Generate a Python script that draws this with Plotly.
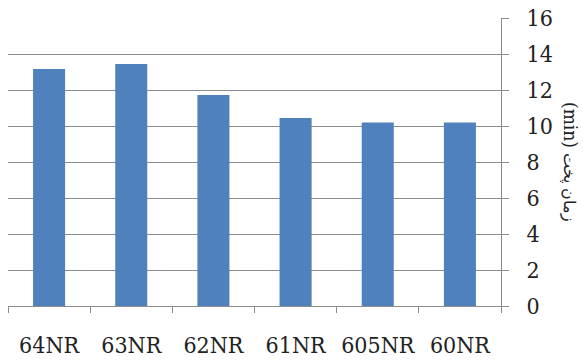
import plotly.graph_objects as go

categories = ["64NR", "63NR", "62NR", "61NR", "605NR", "60NR"]
values = [13.17, 13.44, 11.72, 10.44, 10.2, 10.2]
y_ticks = [0, 2, 4, 6, 8, 10, 12, 14, 16]
y_title_unit = "(min)"
y_title_text = "زمان پخت"

fig = go.Figure()
fig.add_trace(go.Bar(x=categories, y=values, marker=dict(color="#4F81BD", line=dict(width=0)), width=0.39))

font_family = "DejaVu Serif Condensed, DejaVu Serif"
fig.update_layout(
    width=583, height=362,
    margin=dict(l=8, r=82, t=18, b=56, autoexpand=False),
    paper_bgcolor="white", plot_bgcolor="white",
    showlegend=False,
    font=dict(family=font_family),
)
fig.update_xaxes(
    type="category", tickangle=0, automargin=False,
    showline=True, linecolor="#8c8c8c", linewidth=1,
    ticks="outside", tickson="boundaries", ticklen=6, tickcolor="#8c8c8c",
    tickfont=dict(family=font_family, size=23, color="#222"),
    ticklabelstandoff=18,
    showgrid=False,
)
fig.update_yaxes(
    side="right", range=[0, 16], tickvals=y_ticks, automargin=False,
    showline=True, linecolor="#8c8c8c", linewidth=1,
    ticks="outside", ticklen=7, tickcolor="#8c8c8c",
    showgrid=True, gridcolor="#8c8c8c", gridwidth=1,
    tickfont=dict(family=font_family, size=23, color="#222"),
    ticklabelstandoff=13,
    zeroline=False,
)
fig.add_annotation(
    text=f"{y_title_unit} <span style='font-size:16px'>{y_title_text}</span>",
    textangle=90, xref="paper", yref="paper",
    x=1.142, y=0.50, xanchor="center", yanchor="middle",
    showarrow=False, font=dict(family=font_family, size=19, color="#222"),
)
fig.write_html("out.html")
